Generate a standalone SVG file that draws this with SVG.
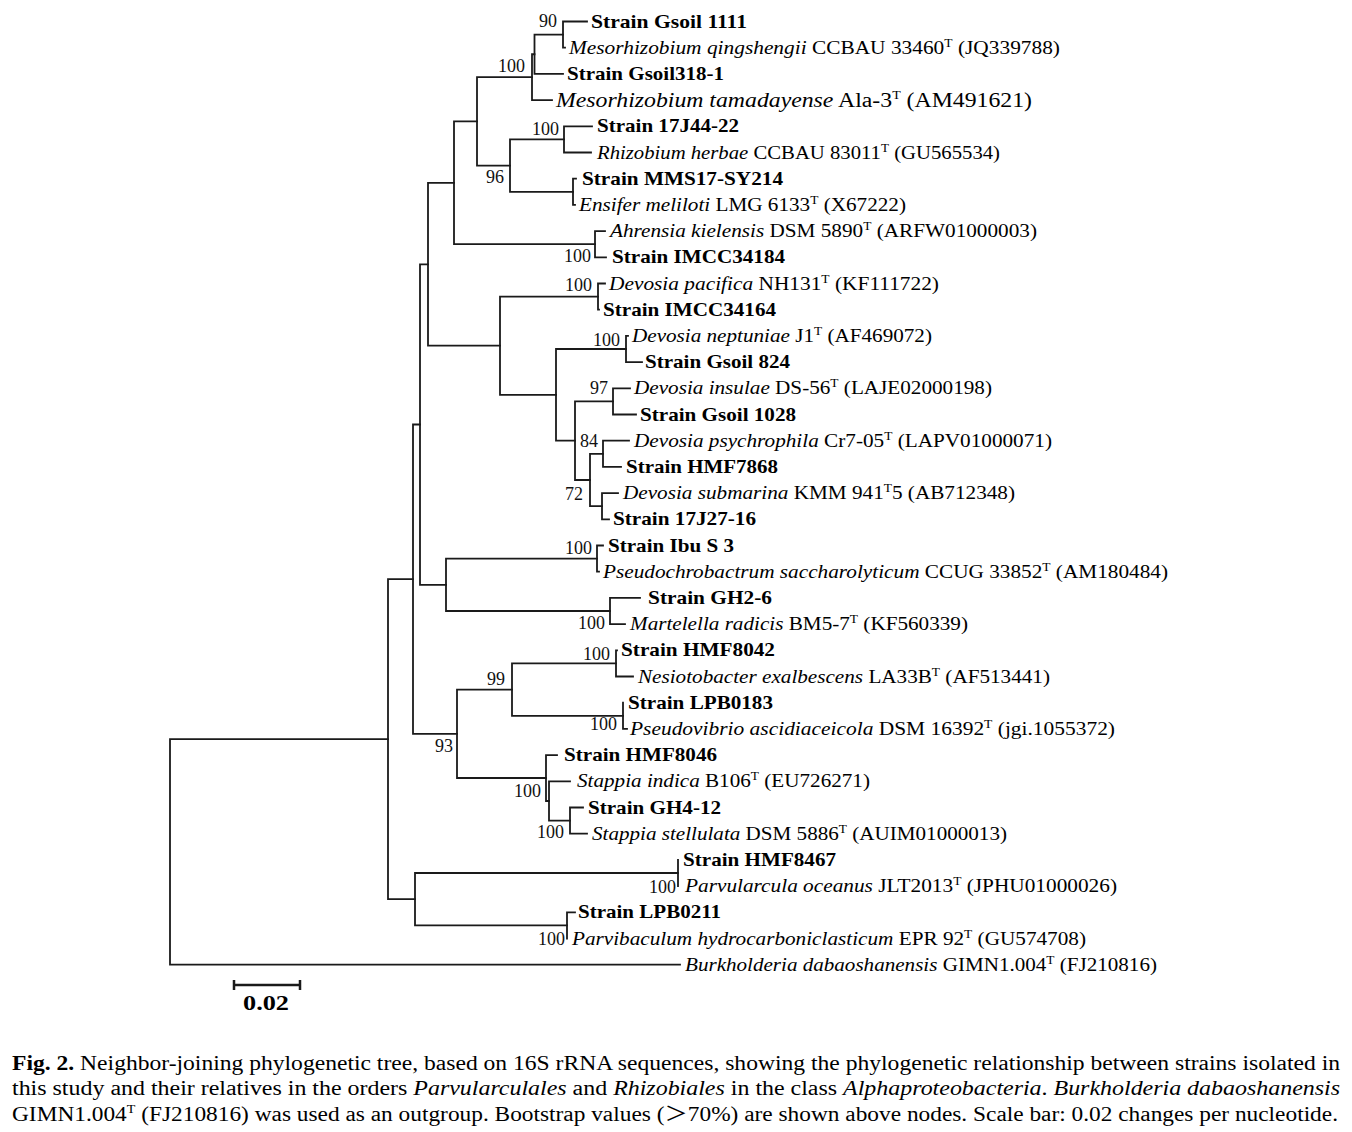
<svg xmlns="http://www.w3.org/2000/svg" width="1352" height="1132" viewBox="0 0 1352 1132">
<style>
.t{font-family:"Liberation Serif",Tinos,"Times New Roman",Times,serif;font-size:19px;fill:#000}
.b{font-weight:bold}
.i{font-style:italic}
.s{font-size:12px}
.bs{font-family:"Liberation Serif",Tinos,"Times New Roman",Times,serif;font-size:18px;fill:#111;text-anchor:end}
.cap{font-family:"Liberation Serif",Tinos,"Times New Roman",Times,"Noto Sans CJK SC",serif;font-size:20px;fill:#000}
#tree path{stroke:#1a1a1a;stroke-width:1.8;fill:none;stroke-linecap:square}
</style>
<rect width="1352" height="1132" fill="#fff"/>
<g id="tree">
<path d="M170,739.2V964.7M170,739.2H388M170,964.7H680"/>
<path d="M388,579.2V899.2M388,579.2H413M388,899.2H415"/>
<path d="M415,873V925.4M415,873H678M415,925.4H567"/>
<path d="M678,859.9V886.1M567,912.3V938.5M567,912.3H575"/>
<path d="M413,424.5V733.8M413,424.5H420M413,733.8H457"/>
<path d="M457,689.6V778M457,689.6H512M457,778H546"/>
<path d="M512,663.4V715.8M512,663.4H616M512,715.8H623"/>
<path d="M616,650.3V676.5M616,650.3H617M616,676.5H633"/>
<path d="M623,702.7V728.9M623,728.9H627"/>
<path d="M546,755.1V801M546,755.1H557M546,801H549"/>
<path d="M549,781.3V820.6M549,781.3H570M549,820.6H570"/>
<path d="M570,807.5V833.7M570,807.5H583M570,833.7H587"/>
<path d="M420,264.3V584.8M420,264.3H428M420,584.8H446"/>
<path d="M446,558.6V611M446,558.6H597M446,611H610"/>
<path d="M597,545.5V571.7M597,545.5H603M597,571.7H599"/>
<path d="M610,597.9V624.1M610,597.9H640M610,624.1H625"/>
<path d="M428,182.8V345.7M428,182.8H454M428,345.7H500"/>
<path d="M500,296.6V394.9M500,296.6H598M500,394.9H556"/>
<path d="M598,283.5V309.7M598,283.5H605M598,309.7H599"/>
<path d="M556,349V440.7M556,349H626M556,440.7H575"/>
<path d="M626,335.9V362.1M626,335.9H628M626,362.1H642"/>
<path d="M575,401.4V480M575,401.4H613M575,480H590"/>
<path d="M613,388.3V414.5M613,388.3H630M613,414.5H636"/>
<path d="M590,453.8V506.2M590,453.8H603M590,506.2H602"/>
<path d="M603,440.7V466.9M603,440.7H629M603,466.9H621"/>
<path d="M602,493.1V519.3M602,493.1H618M602,519.3H609"/>
<path d="M454,121.4V244.2M454,121.4H477M454,244.2H595"/>
<path d="M595,231.1V257.3M595,231.1H605M595,257.3H606"/>
<path d="M477,77.2V165.6M477,77.2H532M477,165.6H510"/>
<path d="M510,139.4V191.8M510,139.4H564M510,191.8H573"/>
<path d="M564,126.3V152.5M564,126.3H592M564,152.5H591"/>
<path d="M573,178.7V204.9M573,178.7H576M573,204.9H575"/>
<path d="M532,54.25V100.1M532,54.25H534.5M532,100.1H552"/>
<path d="M534.5,34.6V73.9M534.5,34.6H563M534.5,73.9H563"/>
<path d="M563,21.5V47.7M563,21.5H587M563,47.7H565"/>
</g>
<g id="bootstrap">
<text class="bs" x="557" y="27">90</text>
<text class="bs" x="525" y="72">100</text>
<text class="bs" x="559" y="135">100</text>
<text class="bs" x="504" y="183">96</text>
<text class="bs" x="591" y="262">100</text>
<text class="bs" x="592" y="291">100</text>
<text class="bs" x="620" y="346">100</text>
<text class="bs" x="608" y="394">97</text>
<text class="bs" x="598" y="447">84</text>
<text class="bs" x="583" y="500">72</text>
<text class="bs" x="592" y="554">100</text>
<text class="bs" x="605" y="629">100</text>
<text class="bs" x="610" y="660">100</text>
<text class="bs" x="505" y="685">99</text>
<text class="bs" x="617" y="730">100</text>
<text class="bs" x="453" y="752">93</text>
<text class="bs" x="541" y="797">100</text>
<text class="bs" x="564" y="838">100</text>
<text class="bs" x="676" y="893">100</text>
<text class="bs" x="565" y="945">100</text>
</g>
<g id="n0"><text class="t b" x="591" y="27.5" textLength="156" lengthAdjust="spacingAndGlyphs">Strain Gsoil 1111</text></g>
<g id="n1"><text class="t" x="569" y="53.7" textLength="491" lengthAdjust="spacingAndGlyphs"><tspan class="i">Mesorhizobium qingshengii</tspan> CCBAU 33460<tspan class="s" dy="-7">T</tspan><tspan dy="7"> (JQ339788)</tspan></text></g>
<g id="n2"><text class="t b" x="567" y="79.9" textLength="157" lengthAdjust="spacingAndGlyphs">Strain Gsoil318-1</text></g>
<g id="n3"><text class="t" x="556" y="106.6" style="font-size:20.5px" textLength="476" lengthAdjust="spacingAndGlyphs"><tspan class="i">Mesorhizobium tamadayense</tspan> Ala-3<tspan class="s" dy="-8">T</tspan><tspan dy="8"> (AM491621)</tspan></text></g>
<g id="n4"><text class="t b" x="597" y="132.3" textLength="142" lengthAdjust="spacingAndGlyphs">Strain 17J44-22</text></g>
<g id="n5"><text class="t" x="597" y="158.5" textLength="403" lengthAdjust="spacingAndGlyphs"><tspan class="i">Rhizobium herbae</tspan> CCBAU 83011<tspan class="s" dy="-7">T</tspan><tspan dy="7"> (GU565534)</tspan></text></g>
<g id="n6"><text class="t b" x="582" y="184.7" textLength="201" lengthAdjust="spacingAndGlyphs">Strain MMS17-SY214</text></g>
<g id="n7"><text class="t" x="579" y="210.9" textLength="327" lengthAdjust="spacingAndGlyphs"><tspan class="i">Ensifer meliloti</tspan> LMG 6133<tspan class="s" dy="-7">T</tspan><tspan dy="7"> (X67222)</tspan></text></g>
<g id="n8"><text class="t" x="610" y="237.1" textLength="427" lengthAdjust="spacingAndGlyphs"><tspan class="i">Ahrensia kielensis</tspan> DSM 5890<tspan class="s" dy="-7">T</tspan><tspan dy="7"> (ARFW01000003)</tspan></text></g>
<g id="n9"><text class="t b" x="612" y="263.3" textLength="173" lengthAdjust="spacingAndGlyphs">Strain IMCC34184</text></g>
<g id="n10"><text class="t" x="609" y="289.5" textLength="330" lengthAdjust="spacingAndGlyphs"><tspan class="i">Devosia pacifica</tspan> NH131<tspan class="s" dy="-7">T</tspan><tspan dy="7"> (KF111722)</tspan></text></g>
<g id="n11"><text class="t b" x="603" y="315.7" textLength="173" lengthAdjust="spacingAndGlyphs">Strain IMCC34164</text></g>
<g id="n12"><text class="t" x="632" y="341.9" textLength="300" lengthAdjust="spacingAndGlyphs"><tspan class="i">Devosia neptuniae</tspan> J1<tspan class="s" dy="-7">T</tspan><tspan dy="7"> (AF469072)</tspan></text></g>
<g id="n13"><text class="t b" x="645" y="368.1" textLength="145" lengthAdjust="spacingAndGlyphs">Strain Gsoil 824</text></g>
<g id="n14"><text class="t" x="634" y="394.3" textLength="358" lengthAdjust="spacingAndGlyphs"><tspan class="i">Devosia insulae</tspan> DS-56<tspan class="s" dy="-7">T</tspan><tspan dy="7"> (LAJE02000198)</tspan></text></g>
<g id="n15"><text class="t b" x="640" y="420.5" textLength="156" lengthAdjust="spacingAndGlyphs">Strain Gsoil 1028</text></g>
<g id="n16"><text class="t" x="634" y="446.7" textLength="418" lengthAdjust="spacingAndGlyphs"><tspan class="i">Devosia psychrophila</tspan> Cr7-05<tspan class="s" dy="-7">T</tspan><tspan dy="7"> (LAPV01000071)</tspan></text></g>
<g id="n17"><text class="t b" x="626" y="472.9" textLength="152" lengthAdjust="spacingAndGlyphs">Strain HMF7868</text></g>
<g id="n18"><text class="t" x="623" y="499.1" textLength="392" lengthAdjust="spacingAndGlyphs"><tspan class="i">Devosia submarina</tspan> KMM 941<tspan class="s" dy="-7">T</tspan><tspan dy="7">5 (AB712348)</tspan></text></g>
<g id="n19"><text class="t b" x="613" y="525.3" textLength="143" lengthAdjust="spacingAndGlyphs">Strain 17J27-16</text></g>
<g id="n20"><text class="t b" x="608" y="551.5" textLength="126" lengthAdjust="spacingAndGlyphs">Strain Ibu S 3</text></g>
<g id="n21"><text class="t" x="603" y="577.7" textLength="565" lengthAdjust="spacingAndGlyphs"><tspan class="i">Pseudochrobactrum saccharolyticum</tspan> CCUG 33852<tspan class="s" dy="-7">T</tspan><tspan dy="7"> (AM180484)</tspan></text></g>
<g id="n22"><text class="t b" x="648" y="603.9" textLength="124" lengthAdjust="spacingAndGlyphs">Strain GH2-6</text></g>
<g id="n23"><text class="t" x="630" y="630.1" textLength="338" lengthAdjust="spacingAndGlyphs"><tspan class="i">Martelella radicis</tspan> BM5-7<tspan class="s" dy="-7">T</tspan><tspan dy="7"> (KF560339)</tspan></text></g>
<g id="n24"><text class="t b" x="621" y="656.3" textLength="154" lengthAdjust="spacingAndGlyphs">Strain HMF8042</text></g>
<g id="n25"><text class="t" x="638" y="682.5" textLength="412" lengthAdjust="spacingAndGlyphs"><tspan class="i">Nesiotobacter exalbescens</tspan> LA33B<tspan class="s" dy="-7">T</tspan><tspan dy="7"> (AF513441)</tspan></text></g>
<g id="n26"><text class="t b" x="628" y="708.7" textLength="145" lengthAdjust="spacingAndGlyphs">Strain LPB0183</text></g>
<g id="n27"><text class="t" x="630" y="734.9" textLength="485" lengthAdjust="spacingAndGlyphs"><tspan class="i">Pseudovibrio ascidiaceicola</tspan> DSM 16392<tspan class="s" dy="-7">T</tspan><tspan dy="7"> (jgi.1055372)</tspan></text></g>
<g id="n28"><text class="t b" x="564" y="761.1" textLength="153" lengthAdjust="spacingAndGlyphs">Strain HMF8046</text></g>
<g id="n29"><text class="t" x="577" y="787.3" textLength="293" lengthAdjust="spacingAndGlyphs"><tspan class="i">Stappia indica</tspan> B106<tspan class="s" dy="-7">T</tspan><tspan dy="7"> (EU726271)</tspan></text></g>
<g id="n30"><text class="t b" x="588" y="813.5" textLength="133" lengthAdjust="spacingAndGlyphs">Strain GH4-12</text></g>
<g id="n31"><text class="t" x="592" y="839.7" textLength="415" lengthAdjust="spacingAndGlyphs"><tspan class="i">Stappia stellulata</tspan> DSM 5886<tspan class="s" dy="-7">T</tspan><tspan dy="7"> (AUIM01000013)</tspan></text></g>
<g id="n32"><text class="t b" x="683" y="865.9" textLength="153" lengthAdjust="spacingAndGlyphs">Strain HMF8467</text></g>
<g id="n33"><text class="t" x="685" y="892.1" textLength="432" lengthAdjust="spacingAndGlyphs"><tspan class="i">Parvularcula oceanus</tspan> JLT2013<tspan class="s" dy="-7">T</tspan><tspan dy="7"> (JPHU01000026)</tspan></text></g>
<g id="n34"><text class="t b" x="578" y="918.3" textLength="143" lengthAdjust="spacingAndGlyphs">Strain LPB0211</text></g>
<g id="n35"><text class="t" x="572" y="944.5" textLength="514" lengthAdjust="spacingAndGlyphs"><tspan class="i">Parvibaculum hydrocarboniclasticum</tspan> EPR 92<tspan class="s" dy="-7">T</tspan><tspan dy="7"> (GU574708)</tspan></text></g>
<g id="n36"><text class="t" x="685" y="970.7" textLength="472" lengthAdjust="spacingAndGlyphs"><tspan class="i">Burkholderia dabaoshanensis</tspan> GIMN1.004<tspan class="s" dy="-7">T</tspan><tspan dy="7"> (FJ210816)</tspan></text></g>
<g id="scalebar">
<path d="M234,985H300M234,980V990M300,980V990" stroke="#1a1a1a" stroke-width="2.5" fill="none"/>
<text class="t b" x="243" y="1010" style="font-size:22px" textLength="46" lengthAdjust="spacingAndGlyphs">0.02</text>
</g>
<g id="caption">
<text class="cap" x="12" y="1070" textLength="1328" lengthAdjust="spacingAndGlyphs"><tspan class="b">Fig. 2.</tspan> Neighbor-joining phylogenetic tree, based on 16S rRNA sequences, showing the phylogenetic relationship between strains isolated in</text>
<text class="cap" x="12" y="1095" textLength="1328" lengthAdjust="spacingAndGlyphs">this study and their relatives in the orders <tspan class="i">Parvularculales</tspan> and <tspan class="i">Rhizobiales</tspan> in the class <tspan class="i">Alphaproteobacteria</tspan>. <tspan class="i">Burkholderia dabaoshanensis</tspan></text>
<text class="cap" x="12" y="1121" textLength="1326" lengthAdjust="spacingAndGlyphs">GIMN1.004<tspan class="s" dy="-8">T</tspan><tspan dy="8"> (FJ210816) was used as an outgroup. Bootstrap values (＞70%) are shown above nodes. Scale bar: 0.02 changes per nucleotide.</tspan></text>
</g>
</svg>
